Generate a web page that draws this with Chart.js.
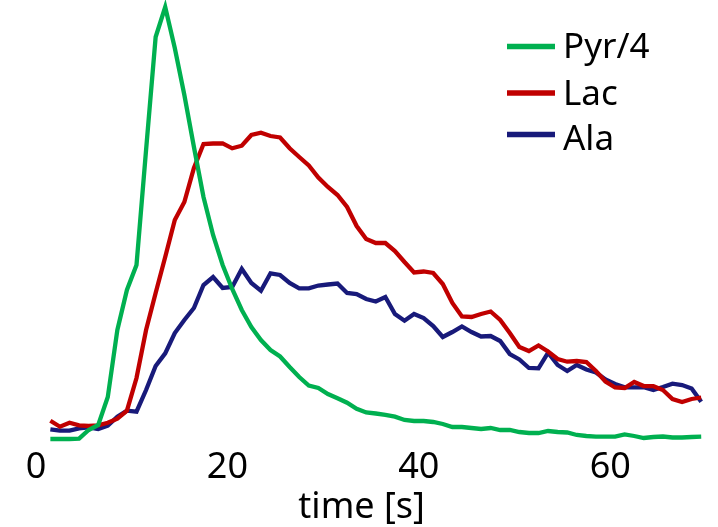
<!DOCTYPE html>
<html>
<head>
<meta charset="utf-8">
<script src="https://cdn.jsdelivr.net/npm/chart.js@4/dist/chart.umd.min.js"></script>
<style>
  html, body { margin: 0; padding: 0; background: #fff; }
  #wrap { position: relative; width: 718px; height: 527px; }
</style>
</head>
<body>
<div id="wrap"><canvas id="chart-main"></canvas></div>
<script>
// sample times (s)
const times = [
  1.5, 2.5, 3.5, 4.5, 5.5, 6.5, 7.5, 8.5, 9.5, 10.5,
  11.5, 12.5, 13.5, 14.5, 15.5, 16.5, 17.5, 18.5, 19.5, 20.5,
  21.5, 22.5, 23.5, 24.5, 25.5, 26.5, 27.5, 28.5, 29.5, 30.5,
  31.5, 32.5, 33.5, 34.5, 35.5, 36.5, 37.5, 38.5, 39.5, 40.5,
  41.5, 42.5, 43.5, 44.5, 45.5, 46.5, 47.5, 48.5, 49.5, 50.5,
  51.5, 52.5, 53.5, 54.5, 55.5, 56.5, 57.5, 58.5, 59.5, 60.5,
  61.5, 62.5, 63.5, 64.5, 65.5, 66.5, 67.5, 68.5, 69.5,
];

// signal, arbitrary units
const pyr = [
  1, 1, 1, 1.3, 10, 15, 43, 110, 150, 175,
  290, 403, 433, 392, 345, 293, 243, 205, 175, 151,
  130, 113, 100, 90, 83.5, 73, 63, 54.5, 52, 46,
  41.7, 37.3, 31.2, 27.6, 26.5, 25.2, 23.3, 20, 19, 19,
  18, 16, 13, 13, 12, 11, 12, 10, 10, 8,
  7, 7, 9, 8, 7.5, 5, 4, 3.3, 3.3, 3.3,
  5.5, 4, 2, 3, 3.5, 2.5, 2.5, 3, 3.3,
];
const lac = [
  19.3, 13.3, 17.3, 14.7, 14, 14.7, 17.3, 21.3, 29.3, 62,
  110, 147, 183, 220, 238, 272, 296, 296.5, 296.7, 291.7,
  294.3, 305, 307.3, 304, 302.5, 291.7, 283, 274.5, 262.5, 253,
  245, 233, 214, 201, 197, 197, 189, 178, 167.5, 168.5,
  167, 156, 137, 123.5, 123, 126, 128.5, 120, 107, 93,
  89, 94.5, 88.5, 81, 78.3, 79, 78, 69, 58.5, 52.5,
  52, 58, 54, 53.8, 50, 41, 38, 41, 42.5,
];
const ala = [
  10.7, 9.3, 9.3, 11.7, 12.7, 11, 14.3, 23.3, 29.3, 28.3,
  50, 74, 86.7, 107, 120, 132, 155, 163, 152, 153,
  171, 157, 149.3, 166.7, 165, 157, 151.7, 151.7, 154.5, 155.5,
  156.5, 147, 146, 141, 138.5, 143, 126, 119.3, 126, 122,
  114, 103, 108, 113.5, 108, 103.5, 104, 99, 86, 80.5,
  72, 71.7, 87.3, 75, 69, 75, 70.5, 67.5, 60.5, 56,
  52.7, 52.7, 52.7, 50, 53, 56.3, 55, 51.5, 38.3,
];

const seriesLabels = ["Pyr/4", "Lac", "Ala"];
const seriesColors = ["rgb(0,176,80)", "rgb(192,0,0)", "rgb(24,26,122)"];
const xTicks = [0, 20, 40, 60];

const FONT = "'Noto Sans', 'DejaVu Sans', sans-serif";

function toPoints(values) {
  return values.map((v, i) => ({ x: times[i], y: v }));
}

// legend drawn inside the plot, upper right
const sideLegend = {
  id: "sideLegend",
  afterDraw(chart) {
    const ctx = chart.ctx;
    const rows = [
      { lineY: 46.5, textY: 57.5 },
      { lineY: 93, textY: 105 },
      { lineY: 134.5, textY: 149.5 },
    ];
    ctx.save();
    ctx.font = "35px " + FONT;
    ctx.textAlign = "left";
    ctx.textBaseline = "alphabetic";
    chart.data.datasets.forEach((ds, i) => {
      const r = rows[i];
      ctx.strokeStyle = ds.borderColor;
      ctx.lineWidth = 5.5;
      ctx.lineCap = "butt";
      ctx.beginPath();
      ctx.moveTo(507, r.lineY);
      ctx.lineTo(555, r.lineY);
      ctx.stroke();
      ctx.fillStyle = "#000";
      ctx.fillText(ds.label, 563, r.textY);
    });
    ctx.restore();
  },
};

const datasets = [pyr, lac, ala].map((vals, i) => ({
  label: seriesLabels[i],
  data: toPoints(vals),
  borderColor: seriesColors[i],
  backgroundColor: seriesColors[i],
  borderWidth: 4.3,
  pointRadius: 0,
  tension: 0,
  fill: false,
}));

new Chart(document.getElementById("chart-main"), {
  type: "line",
  data: { datasets },
  options: {
    responsive: true,
    maintainAspectRatio: false,
    animation: false,
    events: [],
    layout: { padding: { left: 36, right: 12, top: 0, bottom: 0 } },
    plugins: {
      legend: { display: false },
      tooltip: { enabled: false },
    },
    scales: {
      x: {
        type: "linear",
        min: 0,
        max: 70,
        afterFit(scale) {
          scale.height = 82;
        },
        afterBuildTicks(scale) {
          scale.ticks = xTicks.map((v) => ({ value: v }));
        },
        grid: { display: false, drawTicks: false },
        border: { display: false },
        ticks: {
          padding: 1,
          color: "#000",
          font: { family: FONT, size: 36 },
          maxRotation: 0,
        },
        title: {
          display: true,
          text: "time [s]  ",
          color: "#000",
          font: { family: FONT, size: 36, lineHeight: 1 },
          padding: { top: 0, bottom: 1 },
        },
      },
      y: {
        display: false,
        min: -5,
        max: 440,
      },
    },
  },
  plugins: [sideLegend],
});
</script>
</body>
</html>
